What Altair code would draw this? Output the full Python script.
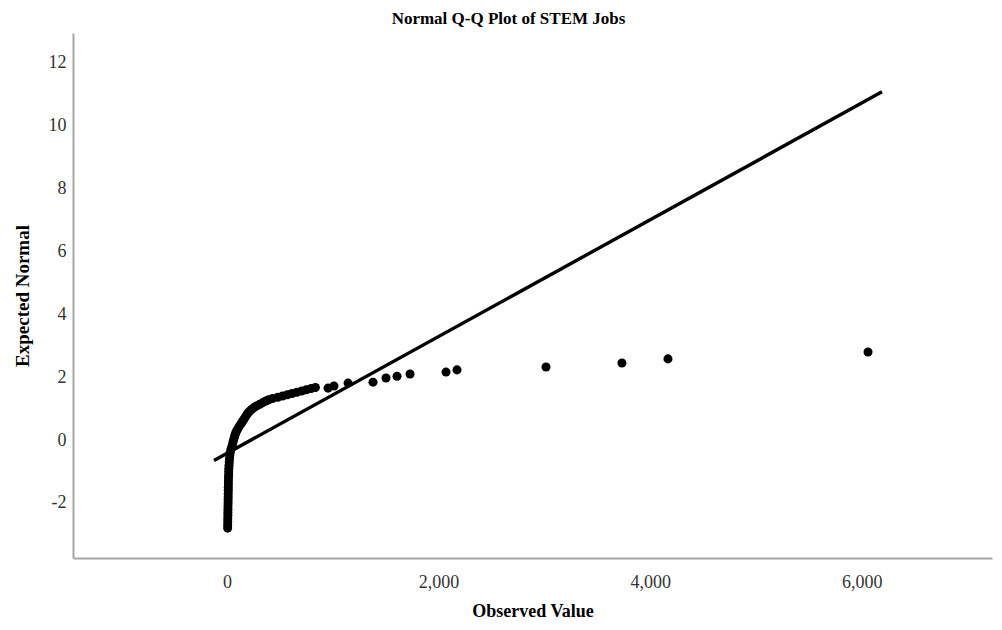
import altair as alt
import pandas as pd

# Dense part of the Q-Q curve (observed value, expected normal)
observed_dense = [6, 6, 7, 7, 8, 8, 9, 9, 10, 10, 11, 11, 12, 12, 13, 13, 14, 15, 16, 17,
                  19, 21, 23, 26, 30, 36, 44, 52, 58, 64, 70, 76, 84, 94, 106, 118, 132, 146, 160, 172,
                  186, 198, 214, 234, 258, 282, 310, 338, 366, 394, 430, 480, 525, 570, 615, 660, 705, 750, 795, 835]
expected_dense = [-2.80, -2.70, -2.60, -2.50, -2.40, -2.30, -2.20, -2.10, -2.00, -1.90,
                  -1.80, -1.70, -1.60, -1.50, -1.40, -1.30, -1.20, -1.10, -1.00, -0.90,
                  -0.80, -0.70, -0.60, -0.50, -0.40, -0.31, -0.22, -0.13, -0.05, 0.03,
                  0.10, 0.17, 0.24, 0.31, 0.38, 0.45, 0.52, 0.59, 0.66, 0.73,
                  0.80, 0.86, 0.92, 0.98, 1.04, 1.09, 1.14, 1.19, 1.24, 1.28,
                  1.32, 1.36, 1.40, 1.44, 1.48, 1.52, 1.56, 1.60, 1.64, 1.67]

# Sparse upper tail
observed_tail = [955, 1011, 1144, 1380, 1503, 1607, 1730, 2070, 2174, 3015, 3733, 4168, 6059]
expected_tail = [1.65, 1.72, 1.81, 1.84, 1.97, 2.03, 2.10, 2.16, 2.23, 2.32, 2.45, 2.58, 2.80]

# Reference line endpoints
line_x = [-123, 6191]
line_y = [-0.65, 11.07]

x_ticks = [0, 2000, 4000, 6000]
y_ticks = [-2, 0, 2, 4, 6, 8, 10, 12]

pts = pd.DataFrame({
    "obs": observed_dense + observed_tail,
    "exp": expected_dense + expected_tail,
})
ref = pd.DataFrame({"obs": line_x, "exp": line_y})

FONT = "Liberation Serif"

xscale = alt.Scale(domain=[-1456, 7231], nice=False, zero=False)
yscale = alt.Scale(domain=[-3.75, 12.94], nice=False, zero=False)

xaxis = alt.Axis(title="Observed Value", values=x_ticks, format=",d", grid=False,
                 ticks=False, labelPadding=15, titlePadding=11,
                 labelFont=FONT, labelFontSize=18, labelColor="#333333",
                 titleFont=FONT, titleFontSize=18, titleFontWeight="bold", titleColor="#000000",
                 domainColor="#a6a6a6", domainWidth=2)
yaxis = alt.Axis(title="Expected Normal", values=y_ticks, labelExpr="'' + datum.value", grid=False,
                 ticks=False, labelPadding=7, titlePadding=16,
                 labelFont=FONT, labelFontSize=18, labelColor="#333333",
                 titleFont=FONT, titleFontSize=19, titleFontWeight="bold", titleColor="#000000",
                 domainColor="#a6a6a6", domainWidth=2)

points = alt.Chart(pts).mark_circle(color="black", opacity=1, size=82).encode(
    x=alt.X("obs:Q", scale=xscale, axis=xaxis),
    y=alt.Y("exp:Q", scale=yscale, axis=yaxis),
)

line = alt.Chart(ref).mark_line(color="black", strokeWidth=3.4).encode(
    x=alt.X("obs:Q", scale=xscale),
    y=alt.Y("exp:Q", scale=yscale),
)

chart = alt.layer(line, points).properties(
    width=919,
    height=525,
    title=alt.TitleParams("Normal Q-Q Plot of STEM Jobs", font=FONT, fontSize=17,
                          fontWeight="bold", color="#000000", anchor="middle",
                          offset=5, dx=-24),
    autosize=alt.AutoSizeParams(type="none"),
    padding={"left": 65, "top": 25, "right": 2, "bottom": 64},
).configure_view(stroke=None)

chart.save("out.html", embed_options={"renderer": "svg", "actions": False})
